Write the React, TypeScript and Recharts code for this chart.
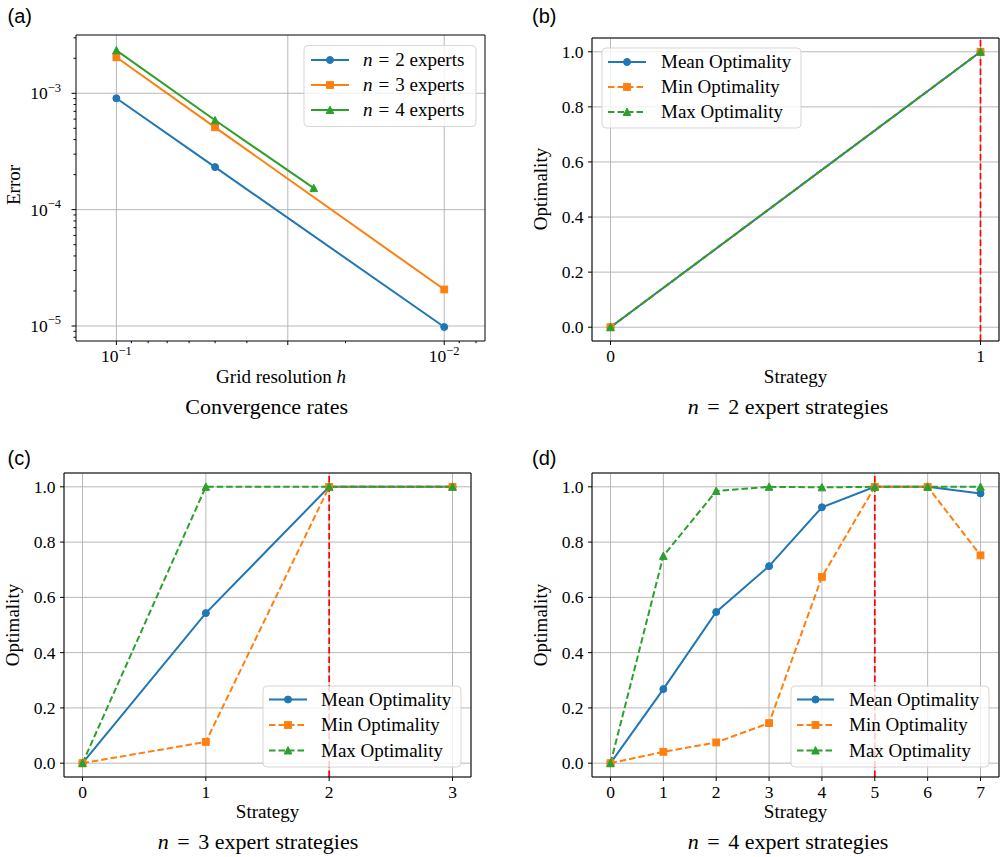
import React from 'react';
import { LineChart, Line, XAxis, YAxis, CartesianGrid, ReferenceLine } from 'recharts';

const SERIF = "'Liberation Serif', 'Times New Roman', Times, serif";
const SANS = "'Liberation Sans', Arial, Helvetica, sans-serif";
const BLUE = '#1f77b4';
const ORANGE = '#ff7f0e';
const GREEN = '#2ca02c';
const GRID = '#b0b0b0';
const DASH = '6.5 3';

// ---------- (a) Convergence rates ----------
const hN2 = [0.1, 0.05, 0.01];
const errN2 = [9.06e-4, 2.32e-4, 9.8e-6];
const hN3 = [0.1, 0.05, 0.01];
const errN3 = [2.04e-3, 5.1e-4, 2.06e-5];
const hN4 = [0.1, 0.05, 0.025];
const errN4 = [2.34e-3, 5.86e-4, 1.53e-4];
const hMajorTicks = [0.1, 0.03, 0.01];
const hMajorLabels = ['\u22121', '', '\u22122'];
const hMinorTicks = [0.09, 0.08, 0.07, 0.06, 0.05, 0.04, 0.02, 0.009, 0.008];
const errMajorTicks = [1e-3, 1e-4, 1e-5];
const errMajorLabels = ['\u22123', '\u22124', '\u22125'];
const errMinorTicks = [
  8e-6, 9e-6,
  2e-5, 3e-5, 4e-5, 5e-5, 6e-5, 7e-5, 8e-5, 9e-5,
  2e-4, 3e-4, 4e-4, 5e-4, 6e-4, 7e-4, 8e-4, 9e-4,
  2e-3, 3e-3,
];
const hDomain = [0.00751, 0.1328];
const errDomain = [7.43e-6, 3.17e-3];

// ---------- (b)(c)(d) Optimality ----------
const optTicks = [0, 0.2, 0.4, 0.6, 0.8, 1.0];

const strategies2 = [0, 1];
const mean2 = [0, 1];
const min2 = [0, 1];
const max2 = [0, 1];
const best2 = 1;

const strategies3 = [0, 1, 2, 3];
const mean3 = [0, 0.543, 1, 1];
const min3 = [0, 0.077, 1, 1];
const max3 = [0, 1, 1, 1];
const best3 = 2;

const strategies4 = [0, 1, 2, 3, 4, 5, 6, 7];
const mean4 = [0, 0.268, 0.547, 0.713, 0.926, 1, 1, 0.976];
const min4 = [0, 0.041, 0.075, 0.145, 0.674, 1, 1, 0.752];
const max4 = [0, 0.75, 0.985, 1, 0.998, 1, 1, 1];
const best4 = 5;

const optNames = ['Mean Optimality', 'Min Optimality', 'Max Optimality'];

type Shape = 'circle' | 'square' | 'triangle';

function Marker({ shape, cx, cy, color }: { shape: Shape; cx: number; cy: number; color: string }) {
  if (cx == null || cy == null || isNaN(cx) || isNaN(cy)) return null;
  if (shape === 'circle') {
    return <circle cx={cx} cy={cy} r={3.5} fill={color} stroke={color} strokeWidth={1} />;
  }
  if (shape === 'square') {
    return <rect x={cx - 3.4} y={cy - 3.4} width={6.8} height={6.8} fill={color} stroke={color} strokeWidth={1} />;
  }
  return (
    <polygon
      points={`${cx},${cy - 3.9} ${cx - 3.8},${cy + 3.5} ${cx + 3.8},${cy + 3.5}`}
      fill={color}
      stroke={color}
      strokeWidth={1}
    />
  );
}

const makeDot = (shape: Shape, color: string) => (p: any) => (
  <Marker key={`d-${p.index}-${p.cx}`} shape={shape} cx={p.cx} cy={p.cy} color={color} />
);

// ---------- tick renderers ----------
const XNumTick = (p: any) => (
  <text x={p.x} y={p.y} dy="0.71em" textAnchor="middle" fontFamily={SERIF} fontSize={17.5} fill="#000">
    {p.payload.value}
  </text>
);
const YNumTick = (p: any) => (
  <text x={p.x} y={p.y} dy="0.34em" textAnchor="end" fontFamily={SERIF} fontSize={17.5} fill="#000">
    {Number(p.payload.value).toFixed(1)}
  </text>
);

const LogXTick = (p: any) => {
  const v = p.payload.value;
  const mi = hMajorTicks.indexOf(v);
  const major = mi >= 0;
  const lab = major ? hMajorLabels[mi] : '';
  return (
    <g>
      <line x1={p.x} x2={p.x} y1={p.y} y2={p.y + (major ? 4 : 2.2)} stroke="#000" strokeWidth={1} />
      {lab ? (
        <text x={p.x} y={p.y + 21} textAnchor="middle" fontFamily={SERIF} fontSize={17.5} fill="#000">
          <tspan>10</tspan>
          <tspan dy={-7.5} fontSize={12.5}>{lab}</tspan>
        </text>
      ) : null}
    </g>
  );
};

const LogYTick = (p: any) => {
  const v = p.payload.value;
  const mi = errMajorTicks.indexOf(v);
  const major = mi >= 0;
  const lab = major ? errMajorLabels[mi] : '';
  return (
    <g>
      <line x1={p.x - (major ? 4.5 : 2.5)} x2={p.x} y1={p.y} y2={p.y} stroke="#000" strokeWidth={1} />
      {lab ? (
        <text x={p.x - 15} y={p.y + 6} textAnchor="end" fontFamily={SERIF} fontSize={17.5} fill="#000">
          <tspan>10</tspan>
          <tspan dy={-7.5} fontSize={12.5}>{lab}</tspan>
        </text>
      ) : null}
    </g>
  );
};

// ---------- panel (a) ----------
function ConvergencePanel() {
  const series = [
    { h: hN2, e: errN2, color: BLUE, shape: 'circle' as Shape },
    { h: hN3, e: errN3, color: ORANGE, shape: 'square' as Shape },
    { h: hN4, e: errN4, color: GREEN, shape: 'triangle' as Shape },
  ];
  return (
    <div style={{ position: 'absolute', left: 0, top: 0 }}>
      <LineChart width={500} height={430} margin={{ top: 34, right: 14, bottom: 0, left: 0 }}>
        {hMajorTicks.map((v) => (
          <ReferenceLine key={`gx${v}`} x={v} stroke={GRID} strokeWidth={0.9} zIndex={-100} />
        ))}
        {errMajorTicks.map((v) => (
          <ReferenceLine key={`gy${v}`} y={v} stroke={GRID} strokeWidth={0.9} zIndex={-100} />
        ))}
        <XAxis
          dataKey="h"
          type="number"
          scale="log"
          domain={hDomain}
          allowDataOverflow
          reversed
          ticks={[...hMajorTicks, ...hMinorTicks]}
          interval={0}
          height={89}
          tickSize={0}
          tickMargin={0}
          tickLine={false}
          stroke="#000"
          tick={LogXTick}
        />
        <YAxis
          type="number"
          scale="log"
          domain={errDomain}
          allowDataOverflow
          ticks={[...errMajorTicks, ...errMinorTicks]}
          interval={0}
          width={76}
          tickSize={0}
          tickMargin={0}
          tickLine={false}
          stroke="#000"
          tick={LogYTick}
        />
        <XAxis
          xAxisId="top"
          orientation="top"
          type="number"
          scale="log"
          domain={hDomain}
          allowDataOverflow
          reversed
          height={1}
          ticks={hMajorTicks}
          tick={false}
          tickLine={false}
          stroke="#000"
        />
        <YAxis
          yAxisId="right"
          orientation="right"
          type="number"
          scale="log"
          domain={errDomain}
          allowDataOverflow
          width={1}
          ticks={errMajorTicks}
          tick={false}
          tickLine={false}
          stroke="#000"
        />
        {series.map((s, k) => (
          <Line
            key={`s${k}`}
            data={s.h.map((h, i) => ({ h, err: s.e[i] }))}
            dataKey="err"
            type="linear"
            stroke={s.color}
            strokeWidth={2}
            dot={makeDot(s.shape, s.color)}
            activeDot={false}
            isAnimationActive={false}
          />
        ))}
      </LineChart>
    </div>
  );
}

// ---------- panels (b)(c)(d) ----------
function OptPanel(props: {
  left: number; top: number; width: number; height: number;
  margin: { top: number; right: number; bottom: number; left: number };
  yAxisWidth: number; xAxisHeight: number;
  strategies: number[]; mean: number[]; min: number[]; max: number[]; best: number;
}) {
  const { left, top, width, height, margin, yAxisWidth, xAxisHeight, strategies, mean, min, max, best } = props;
  const data = strategies.map((s, i) => ({ s, mean: mean[i], min: min[i], max: max[i] }));
  const lo = strategies[0];
  const hi = strategies[strategies.length - 1];
  const pad = 0.05 * (hi - lo);
  const xDomain = [lo - pad, hi + pad];
  const yDomain = [-0.05, 1.05];
  return (
    <div style={{ position: 'absolute', left, top }}>
      <LineChart width={width} height={height} data={data} margin={margin}>
        <CartesianGrid stroke={GRID} strokeWidth={0.9} fill="none" />
        <XAxis
          dataKey="s"
          type="number"
          domain={xDomain}
          allowDataOverflow
          ticks={strategies}
          interval={0}
          height={xAxisHeight}
          tickSize={4}
          tickMargin={5}
          stroke="#000"
          tick={XNumTick}
        />
        <YAxis
          type="number"
          domain={yDomain}
          allowDataOverflow
          ticks={optTicks}
          interval={0}
          width={yAxisWidth}
          tickSize={4}
          tickMargin={4.5}
          stroke="#000"
          tick={YNumTick}
        />
        <XAxis xAxisId="top" orientation="top" type="number" domain={xDomain} allowDataOverflow height={1} ticks={strategies} tick={false} tickLine={false} stroke="#000" />
        <YAxis yAxisId="right" orientation="right" type="number" domain={yDomain} allowDataOverflow width={1} ticks={optTicks} tick={false} tickLine={false} stroke="#000" />
        <Line dataKey="mean" name={optNames[0]} type="linear" stroke={BLUE} strokeWidth={2} dot={makeDot('circle', BLUE)} activeDot={false} isAnimationActive={false} />
        <Line dataKey="min" name={optNames[1]} type="linear" stroke={ORANGE} strokeWidth={2} strokeDasharray={DASH} dot={makeDot('square', ORANGE)} activeDot={false} isAnimationActive={false} />
        <Line dataKey="max" name={optNames[2]} type="linear" stroke={GREEN} strokeWidth={2} strokeDasharray={DASH} dot={makeDot('triangle', GREEN)} activeDot={false} isAnimationActive={false} />
        <ReferenceLine x={best} stroke="#ff0000" strokeWidth={1.7} strokeDasharray={DASH} />
      </LineChart>
    </div>
  );
}

// ---------- overlay: legends & labels ----------
type LegItem = { color: string; dash?: string; shape: Shape; label: React.ReactNode };

function LegendBox({ x, y, w, h, rowY, sx1, sx2, tx, items }: {
  x: number; y: number; w: number; h: number; rowY: number[]; sx1: number; sx2: number; tx: number; items: LegItem[];
}) {
  return (
    <g>
      <rect x={x} y={y} width={w} height={h} rx={4} ry={4} fill="#fff" fillOpacity={0.8} stroke="#cccccc" strokeOpacity={0.8} strokeWidth={1} />
      {items.map((it, i) => (
        <g key={i}>
          <line x1={sx1} x2={sx2} y1={rowY[i]} y2={rowY[i]} stroke={it.color} strokeWidth={2} strokeDasharray={it.dash} />
          <Marker shape={it.shape} cx={(sx1 + sx2) / 2} cy={rowY[i]} color={it.color} />
          <text x={tx} y={rowY[i] + 6} fontFamily={SERIF} fontSize={19} fill="#000">{it.label}</text>
        </g>
      ))}
    </g>
  );
}

const nLabel = (n: string, rest: string, gap: number) => (
  <>
    <tspan fontStyle="italic">n</tspan>
    <tspan dx={gap}>=</tspan>
    <tspan dx={gap}>{n}</tspan>
    <tspan>{rest}</tspan>
  </>
);

const optItems: LegItem[] = [
  { color: BLUE, shape: 'circle', label: optNames[0] },
  { color: ORANGE, dash: DASH, shape: 'square', label: optNames[1] },
  { color: GREEN, dash: DASH, shape: 'triangle', label: optNames[2] },
];

const convItems: LegItem[] = [
  { color: BLUE, shape: 'circle', label: nLabel('2', '\u00a0experts', 6) },
  { color: ORANGE, shape: 'square', label: nLabel('3', '\u00a0experts', 6) },
  { color: GREEN, shape: 'triangle', label: nLabel('4', '\u00a0experts', 6) },
];

function Overlay() {
  const label = { fontFamily: SERIF, fontSize: 19, fill: '#000', textAnchor: 'middle' as const };
  const title = { fontFamily: SERIF, fontSize: 22, fill: '#000', textAnchor: 'middle' as const };
  const letter = { fontFamily: SANS, fontSize: 20, fill: '#000' };
  return (
    <svg width={1001} height={857} style={{ position: 'absolute', left: 0, top: 0, pointerEvents: 'none' }}>
      <text x={7.5} y={23} {...letter}>(a)</text>
      <text x={532} y={23} {...letter}>(b)</text>
      <text x={7.5} y={464.5} {...letter}>(c)</text>
      <text x={532} y={464.5} {...letter}>(d)</text>

      <text x={281} y={383} {...label}>Grid resolution <tspan fontStyle="italic">h</tspan></text>
      <text x={795.5} y={383} {...label}>Strategy</text>
      <text x={267.5} y={818} {...label}>Strategy</text>
      <text x={795.5} y={818} {...label}>Strategy</text>

      <text x={20} y={185} transform="rotate(-90 20 185)" {...label}>Error</text>
      <text x={547} y={189} transform="rotate(-90 547 189)" {...label}>Optimality</text>
      <text x={19} y={625} transform="rotate(-90 19 625)" {...label}>Optimality</text>
      <text x={547} y={625} transform="rotate(-90 547 625)" {...label}>Optimality</text>

      <text x={266.7} y={414} {...title}>Convergence rates</text>
      <text x={788} y={414} {...title}>{nLabel('2', '\u00a0expert strategies', 8.5)}</text>
      <text x={258} y={849} {...title}>{nLabel('3', '\u00a0expert strategies', 8.5)}</text>
      <text x={788} y={849} {...title}>{nLabel('4', '\u00a0expert strategies', 8.5)}</text>

      <LegendBox x={304} y={45.5} w={172} h={81} rowY={[60, 85, 110]} sx1={311} sx2={349} tx={363} items={convItems} />
      <LegendBox x={602} y={48} w={199} h={80} rowY={[62, 87, 112]} sx1={608} sx2={646} tx={661} items={optItems} />
      <LegendBox x={263} y={686} w={198} h={81} rowY={[699.5, 725, 750.5]} sx1={269} sx2={307} tx={321} items={optItems} />
      <LegendBox x={791} y={686} w={198} h={81} rowY={[699.5, 725, 750.5]} sx1={797} sx2={834} tx={849} items={optItems} />
    </svg>
  );
}

export default function App() {
  return (
    <div style={{ position: 'absolute', left: 0, top: 0, width: 1001, height: 857, background: '#fff', overflow: 'hidden' }}>
      <ConvergencePanel />
      <OptPanel
        left={500} top={0} width={501} height={430}
        margin={{ top: 37, right: 1, bottom: 0, left: 0 }}
        yAxisWidth={92} xAxisHeight={89}
        strategies={strategies2} mean={mean2} min={min2} max={max2} best={best2}
      />
      <OptPanel
        left={0} top={430} width={500} height={427}
        margin={{ top: 42, right: 28, bottom: 0, left: 0 }}
        yAxisWidth={64} xAxisHeight={80}
        strategies={strategies3} mean={mean3} min={min3} max={max3} best={best3}
      />
      <OptPanel
        left={500} top={430} width={501} height={427}
        margin={{ top: 42, right: 1, bottom: 0, left: 0 }}
        yAxisWidth={92} xAxisHeight={80}
        strategies={strategies4} mean={mean4} min={min4} max={max4} best={best4}
      />
      <Overlay />
    </div>
  );
}
